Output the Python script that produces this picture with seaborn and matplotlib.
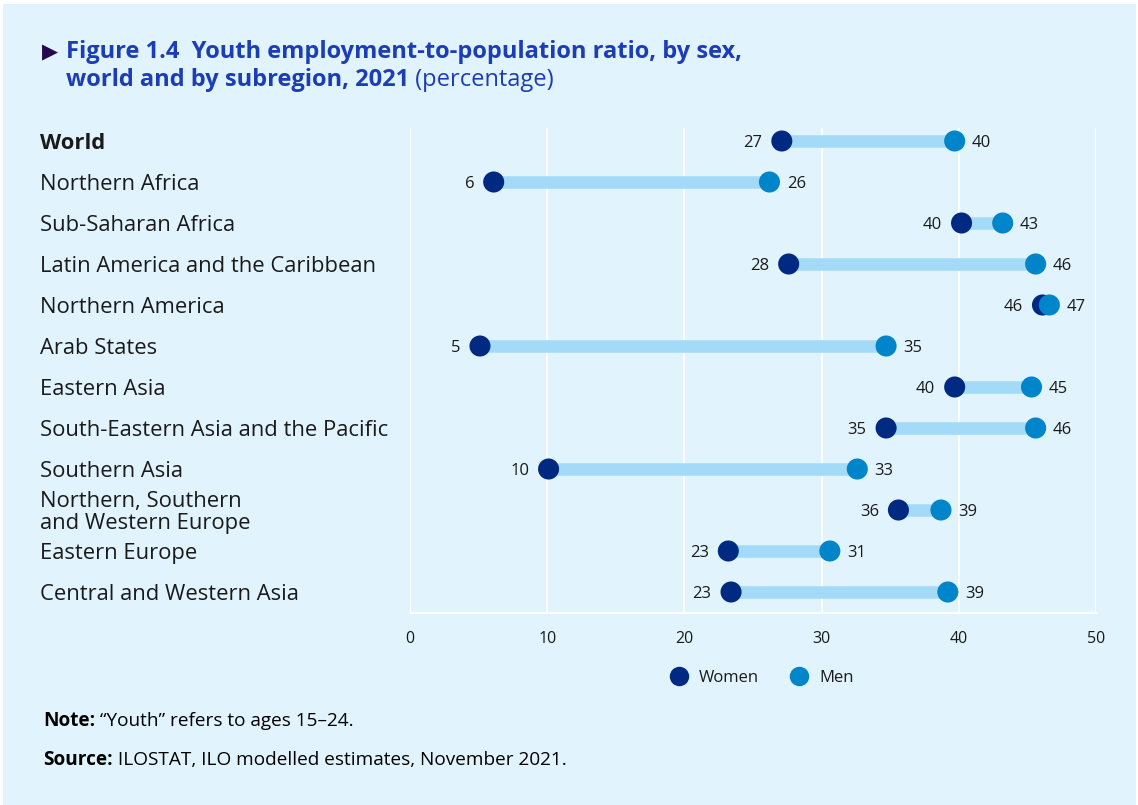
import matplotlib
matplotlib.use("Agg")
import matplotlib.pyplot as plt
import numpy as np
import pandas as pd
import seaborn as sns
from matplotlib.transforms import blended_transform_factory, ScaledTranslation
from matplotlib.lines import Line2D
from matplotlib.patches import Rectangle

# Youth employment-to-population ratio (%), 2021
regions = [
    "World",
    "Northern Africa",
    "Sub-Saharan Africa",
    "Latin America and the Caribbean",
    "Northern America",
    "Arab States",
    "Eastern Asia",
    "South-Eastern Asia and the Pacific",
    "Southern Asia",
    "Northern, Southern\nand Western Europe",
    "Eastern Europe",
    "Central and Western Asia",
]
women = [27.1, 6.1, 40.2, 27.6, 46.1, 5.1, 39.7, 34.7, 10.1, 35.6, 23.2, 23.4]
men = [39.7, 26.2, 43.2, 45.6, 46.6, 34.7, 45.3, 45.6, 32.6, 38.7, 30.6, 39.2]
x_ticks = [0, 10, 20, 30, 40, 50]
sexes = ["Women", "Men"]

BG = "#e1f3fc"
WOMEN_C = "#002a82"
MEN_C = "#0085ca"
BAR_C = "#a3daf8"
TITLE_C = "#1b3db6"
TEXT_C = "#1a1a1a"
FONT = ["Open Sans", "DejaVu Sans"]

sns.set_theme(style="white")
plt.rcParams["font.family"] = FONT

fig = plt.figure(figsize=(11.38, 8.05), dpi=100, facecolor="white")
W, H = 1138, 805
fig.patches.append(Rectangle((3 / W, 0), 1 - 5 / W, 1 - 4 / H,
                             transform=fig.transFigure, facecolor=BG,
                             edgecolor="none", zorder=-10))

ax = fig.add_axes([410 / W, 1 - 613 / H, (1096 - 410) / W, (613 - 128) / H])
ax.set_facecolor(BG)

n = len(regions)
ypos = np.arange(n)
long = pd.DataFrame({
    "region": regions * 2,
    "y": list(ypos) * 2,
    "value": women + men,
    "sex": ["Women"] * n + ["Men"] * n,
})

# connectors between the two sexes
ax.hlines(ypos, women, men, color=BAR_C, linewidth=9, zorder=2)

sns.scatterplot(data=long, x="value", y="y", hue="sex", hue_order=sexes,
                palette={"Women": WOMEN_C, "Men": MEN_C}, s=230,
                edgecolor="none", linewidth=0, legend=False, ax=ax, zorder=3)

for yi, w, m in zip(ypos, women, men):
    ax.annotate(f"{w:.0f}", (w, yi), xytext=(-14, -1.2), textcoords="offset points",
                ha="right", va="center", fontsize=12, color=TEXT_C)
    ax.annotate(f"{m:.0f}", (m, yi), xytext=(12.5, -1.2), textcoords="offset points",
                ha="left", va="center", fontsize=12, color=TEXT_C)

ax.set_xlim(0, 50)
ax.set_ylim(n - 1 + 0.512, -0.317)
ax.set_xticks(x_ticks)
ax.set_xticklabels([str(t) for t in x_ticks], fontsize=11.5, color=TEXT_C)
ax.tick_params(axis="x", length=0, pad=13)
ax.set_yticks([])
ax.set_xlabel("")
ax.set_ylabel("")
ax.grid(axis="x", color="white", linewidth=1.3, zorder=0)
ax.set_axisbelow(True)
for side in ["top", "left", "right"]:
    ax.spines[side].set_visible(False)
ax.spines["bottom"].set_color("white")
ax.spines["bottom"].set_linewidth(1.3)

# region names on the left
trans = blended_transform_factory(fig.transFigure, ax.transData) + \
    ScaledTranslation(0, -2.5 / 100, fig.dpi_scale_trans)
for yi, name in zip(ypos, regions):
    fig.text(40 / W, yi, name, transform=trans, ha="left", va="center",
             fontsize=15.8, color=TEXT_C, linespacing=1.08,
             fontweight="bold" if name == "World" else "normal")

# legend
handles = [Line2D([], [], marker="o", linestyle="none", markersize=14,
                  markerfacecolor=c, markeredgecolor="none", label=s)
           for s, c in zip(sexes, [WOMEN_C, MEN_C])]
fig.legend(handles=handles, loc="center", bbox_to_anchor=(762 / W, 1 - 678 / H),
           ncol=2, frameon=False, fontsize=12, handletextpad=0.7,
           columnspacing=1.9, handlelength=1.0, labelcolor=TEXT_C)

# title
fig.text(42 / W, 1 - 52 / H, "\u25b6", fontsize=15, color="#26084f",
         family="DejaVu Sans", ha="left", va="center")
fig.text(66 / W, 1 - 52 / H, "Figure 1.4  Youth employment-to-population ratio, by sex,",
         fontsize=17, fontweight="bold", color=TITLE_C, ha="left", va="center")
t2 = fig.text(66 / W, 1 - 80 / H, "world and by subregion, 2021",
              fontsize=17, fontweight="bold", color=TITLE_C, ha="left", va="center")

# footnotes
fig.canvas.draw()
r = fig.canvas.get_renderer()


def follow(prev, text, **kw):
    bb = prev.get_window_extent(renderer=r)
    x0, y0 = prev.get_position()
    return fig.text(bb.x1 / W, y0, text, ha="left", va="center", **kw)


follow(t2, " (percentage)", fontsize=17, color=TITLE_C)

n1 = fig.text(43 / W, 1 - 721 / H, "Note:", fontsize=13.7, fontweight="bold",
              color="black", ha="left", va="center")
follow(n1, " \u201cYouth\u201d refers to ages 15\u201324.", fontsize=13.7, color="black")
s1 = fig.text(43 / W, 1 - 760 / H, "Source:", fontsize=13.7, fontweight="bold",
              color="black", ha="left", va="center")
follow(s1, " ILOSTAT, ILO modelled estimates, November 2021.", fontsize=13.7, color="black")

fig.savefig("out.png", dpi=100, facecolor="white")
